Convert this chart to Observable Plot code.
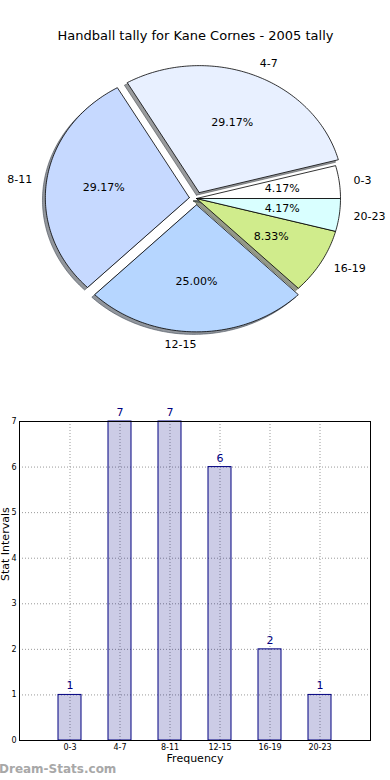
<!DOCTYPE html>
<html><head><meta charset="utf-8">
<script src="https://cdn.jsdelivr.net/npm/d3@7"></script>
<script src="https://cdn.jsdelivr.net/npm/@observablehq/plot@0.6"></script>
<style>
body{margin:0;background:#fff;font-family:"DejaVu Sans",sans-serif;}
#wrap{position:relative;width:390px;height:780px;overflow:hidden;}
#wrap svg{display:block;}
#wm{position:absolute;left:-1px;top:762px;font-size:12px;line-height:14px;color:#a8a8a8;font-weight:bold;font-family:"DejaVu Sans",sans-serif;}
</style></head><body><div id="wrap"></div>
<script>
const title = "Handball tally for Kane Cornes - 2005 tally";
const categories = ["0-3", "4-7", "8-11", "12-15", "16-19", "20-23"];
const counts = [1, 7, 7, 6, 2, 1];
const sliceColors = ["#ffffff", "#e8f0ff", "#c6d9ff", "#b6d6ff", "#d0ec8c", "#d9ffff"];
const explode = [0, 0.05, 0.05, 0.05, 0, 0];
const xLabel = "Frequency";
const yLabel = "Stat Intervals";
const yTicks = [0, 1, 2, 3, 4, 5, 6, 7];
const watermark = "Dream-Stats.com";

// ---------- pie geometry (unit circle, matplotlib style: start at 0°, counter-clockwise)
const total = d3.sum(counts);
let acc = 0;
const slices = counts.map((v, i) => {
  const t1 = acc / total * 2 * Math.PI; acc += v;
  const t2 = acc / total * 2 * Math.PI;
  const mid = (t1 + t2) / 2;
  return {i, t1, t2, mid, cx: explode[i] * Math.cos(mid), cy: explode[i] * Math.sin(mid), pct: v / total * 100};
});
function wedge(s, dx, dy) {
  const pts = [{k: s.i, x: s.cx + dx, y: s.cy + dy}];
  const n = Math.max(2, Math.ceil((s.t2 - s.t1) / (Math.PI / 180)));
  for (let j = 0; j <= n; j++) {
    const t = s.t1 + (s.t2 - s.t1) * j / n;
    pts.push({k: s.i, x: s.cx + dx + Math.cos(t), y: s.cy + dy + Math.sin(t)});
  }
  pts.push({k: s.i, x: s.cx + dx, y: s.cy + dy});
  return pts;
}
const wedgePts = slices.flatMap(s => wedge(s, 0, 0).map(p => ({...p, fill: sliceColors[s.i]})));
const shadowPts = slices.flatMap(s => {
  const c = d3.rgb(sliceColors[s.i]);
  const sc = d3.rgb(c.r * 0.3, c.g * 0.3, c.b * 0.3).formatHex();
  return wedge(s, -0.02, -0.02).map(p => ({...p, fill: sc}));
});
const labels = slices.map(s => ({
  x: s.cx + 1.1 * Math.cos(s.mid), y: s.cy + 1.1 * Math.sin(s.mid),
  text: categories[s.i], left: Math.cos(s.mid) > 0
}));
const pcts = slices.map(s => ({
  x: s.cx + 0.6 * Math.cos(s.mid), y: s.cy + 0.6 * Math.sin(s.mid),
  text: s.pct.toFixed(2) + "%"
}));

const W = 390, H1 = 390, pcx = 196, pcy = 198, rx = 144, ry = 127;
const pie = Plot.plot({
  width: W, height: H1, margin: 0,
  x: {domain: [-pcx / rx, (W - pcx) / rx], axis: null},
  y: {domain: [-(H1 - pcy) / ry, pcy / ry], axis: null},
  color: {type: "identity"},
  style: {fontFamily: "DejaVu Sans", fontSize: "11px", color: "black", background: "white"},
  marks: [
    Plot.line(shadowPts, {x: "x", y: "y", z: "k", fill: "fill", fillOpacity: 0.55, stroke: "fill", strokeOpacity: 0.55, strokeWidth: 1}),
    Plot.line(wedgePts, {x: "x", y: "y", z: "k", fill: "fill", stroke: "black", strokeWidth: 0.8}),
    Plot.text(labels.filter(d => d.left), {x: "x", y: "y", text: "text", textAnchor: "start", fontSize: 11, fill: "black"}),
    Plot.text(labels.filter(d => !d.left), {x: "x", y: "y", text: "text", textAnchor: "end", fontSize: 11, fill: "black"}),
    Plot.text(pcts, {x: "x", y: "y", text: "text", fontSize: 11, fill: "black"}),
    Plot.text([title], {text: d => d, frameAnchor: "top", dy: 30, fontSize: 13, fill: "black"})
  ]
});

// ---------- bar chart
const bars = categories.map((c, i) => ({cat: c, value: counts[i]}));
const bar = Plot.plot({
  width: W, height: 390, marginTop: 31, marginBottom: 40, marginLeft: 19, marginRight: 20,
  x: {type: "band", domain: categories, paddingInner: 0.54, paddingOuter: 0.77, align: 0.5, label: null, tickSize: 0, tickPadding: 4},
  y: {domain: [0, 7], ticks: yTicks, tickFormat: d3.format("d"), tickSize: 0, tickPadding: 3, label: null},
  style: {fontFamily: "DejaVu Sans", fontSize: "8px", color: "black", background: "white"},
  marks: [
    Plot.gridX({stroke: "#999", strokeOpacity: 1, strokeDasharray: "1,2"}),
    Plot.gridY(yTicks, {stroke: "#999", strokeOpacity: 1, strokeDasharray: "1,2"}),
    Plot.barY(bars, {x: "cat", y: "value", fill: "#000080", fillOpacity: 0.2, stroke: "#000080", strokeWidth: 1}),
    Plot.text(bars, {x: "cat", y: "value", text: d => String(d.value), dy: -9, fill: "#000080", fontSize: 11}),
    Plot.frame({stroke: "black"}),
    Plot.text([yLabel], {text: d => d, frameAnchor: "left", dx: -14, rotate: -90, fontSize: 11, fill: "black"}),
    Plot.text([xLabel], {text: d => d, frameAnchor: "bottom", dy: 21, fontSize: 11, fill: "black"})
  ]
});

const wrap = document.getElementById("wrap");
wrap.appendChild(pie);
wrap.appendChild(bar);
const wm = document.createElement("div");
wm.id = "wm"; wm.textContent = watermark;
wrap.appendChild(wm);
</script></body></html>
